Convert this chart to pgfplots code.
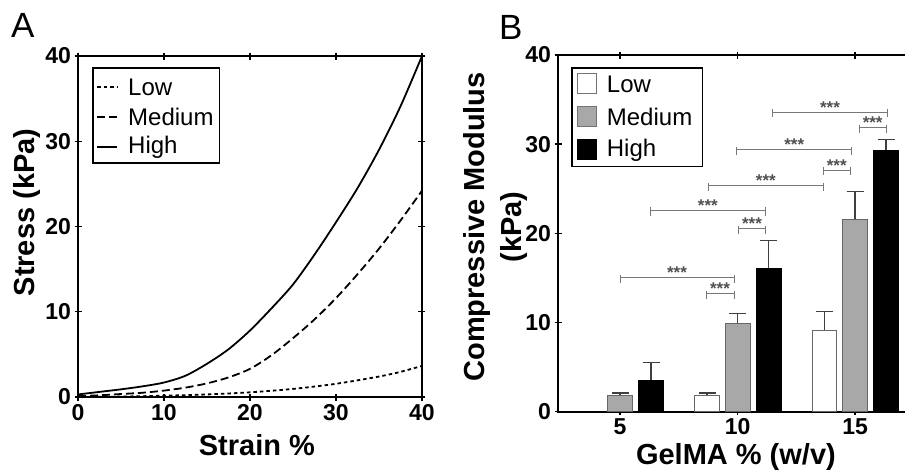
\documentclass[border=0pt]{standalone}
\usepackage{fontspec}
\setmainfont{Liberation Sans}
\usepackage{pgfplots}
\pgfplotsset{compat=1.18}
\definecolor{medgray}{RGB}{168,168,168}
\definecolor{brkgray}{RGB}{120,120,120}
\definecolor{stargray}{RGB}{80,80,80}

% significance bracket: from x1 to x2 at height y
\newcommand{\sig}[3]{%
  \draw[brkgray, line width=1pt] (axis cs:#1,#3+0.3) -- (axis cs:#1,#3-0.6);
  \draw[brkgray, line width=1pt] (axis cs:#2,#3+0.3) -- (axis cs:#2,#3-0.6);
  \draw[brkgray, line width=1pt] (axis cs:#1,#3) -- node[midway, anchor=base, yshift=-1pt, inner sep=0pt,
     text=stargray, font=\fontsize{17}{17}\selectfont\bfseries] {***} (axis cs:#2,#3);
}
\newcommand{\legfont}{\fontsize{24}{28}\selectfont}

\pgfplotsset{
  panel/.style={
    scale only axis,
    ymin=0, ymax=40, ytick={0,10,...,40},
    axis line style={line width=1.6pt},
    tick style={line width=1.4pt, black},
    major tick length=7pt,
    tick align=center,
    /pgf/number format/assume math mode=true,
    tick label style={font=\fontsize{23}{26}\selectfont\bfseries},
    label style={font=\fontsize{29}{34}\selectfont\bfseries},
  },
}

\begin{document}
\begin{tikzpicture}
\path[use as bounding box] (0pt,0pt) rectangle (905pt,472pt);

\node[anchor=north west, inner sep=0pt, font=\fontsize{35}{40}\selectfont] at (11pt,459pt) {A};
\node[anchor=north west, inner sep=0pt, font=\fontsize{35}{40}\selectfont] at (499pt,457pt) {B};

%% Panel A: stress-strain curves
\begin{axis}[
  panel,
  at={(78pt,75pt)}, anchor=south west,
  width=344pt, height=341pt,
  xmin=0, xmax=40, xtick={0,10,...,40},
  xlabel={Strain \%}, ylabel={Stress (kPa)},
  xlabel style={at={(axis description cs:0.52,-0.141)}, anchor=center},
  ylabel style={at={(axis description cs:-0.147,0.541)}, anchor=center},
]
%% Low
\addplot[black, line width=1.8pt, dash pattern=on 3.5pt off 3pt, smooth] coordinates {
  (0,0)(5,0.05)(10,0.15)(15,0.3)(20,0.55)(25,0.95)(30,1.55)(35,2.4)(37.5,2.95)(40,3.65)
};
%% Medium
\addplot[black, line width=1.8pt, dash pattern=on 8pt off 4pt, smooth] coordinates {
  (0,0.1)(2.5,0.2)(5,0.35)(7.5,0.5)(10,0.75)(12.5,1.1)(15,1.6)(17.5,2.3)(20,3.3)
  (22.5,4.9)(25,6.9)(27.5,9.1)(30,11.6)(32.5,14.4)(35,17.4)(37.5,20.7)(40,24.2)
};
%% High
\addplot[black, line width=1.8pt, smooth] coordinates {
  (0,0.3)(2.5,0.6)(5,0.9)(7.5,1.25)(10,1.7)(12.5,2.5)(15,3.9)(17.5,5.6)(20,7.8)
  (22.5,10.4)(25,13.2)(27.5,16.7)(30,20.5)(32.5,24.5)(35,29.0)(37.5,34.1)(40,40)
};
\end{axis}

%% legend of panel A
\draw[black, line width=1.6pt, fill=white] (92.7pt,403.7pt) rectangle (219.3pt,308.7pt);
\draw[black, line width=1.8pt, dash pattern=on 3.5pt off 3pt] (97pt,385pt) -- (117pt,385pt);
\draw[black, line width=1.8pt, dash pattern=on 8pt off 4pt] (97pt,355pt) -- (117pt,355pt);
\draw[black, line width=1.8pt] (97pt,325pt) -- (117pt,325pt);
\node[anchor=west, inner sep=0pt, font=\legfont] at (128pt,385pt) {Low};
\node[anchor=west, inner sep=0pt, font=\legfont] at (128pt,355pt) {Medium};
\node[anchor=west, inner sep=0pt, font=\legfont] at (128pt,325pt) {High};

%% Panel B: compressive modulus bars (bars placed at their own x: low -1.3, high +1.32)
\begin{axis}[
  panel,
  at={(558pt,60.3pt)}, anchor=south west,
  width=355.8pt, height=356.7pt,
  xmin=2.36, xmax=17.5, xtick={5,10,15},
  xlabel={GelMA \% (w/v)}, ylabel={Compressive Modulus\\(kPa)},
  xlabel style={at={(axis description cs:0.5,-0.128)}, anchor=center},
  ylabel style={at={(axis description cs:-0.175,0.518)}, anchor=center, align=center,
    font=\fontsize{29}{37}\selectfont\bfseries},
  error bars/y dir=plus, error bars/y explicit,
  error bars/error bar style={line width=1.2pt, black!75},
  error bars/error mark options={rotate=90, mark size=8.5pt, line width=1.2pt, black!75},
]
%% Low
\addplot[ybar, bar width=1.06, bar shift=0, fill=white, draw=black!60, line width=1pt]
  coordinates {(8.7,1.83) +- (0,0.27) (13.7,9.16) +- (0,2.04)};
%% Medium
\addplot[ybar, bar width=1.06, bar shift=0, fill=medgray, draw=black!60, line width=1pt]
  coordinates {(5,1.87) +- (0,0.23) (10,9.9) +- (0,1.1) (15,21.6) +- (0,3.1)};
%% High
\addplot[ybar, bar width=1.06, bar shift=0, fill=black, draw=black, line width=1pt]
  coordinates {(6.32,3.55) +- (0,1.95) (11.32,16.1) +- (0,3.1) (16.32,29.3) +- (0,1.2)};

\sig{5}{9.85}{15.07}
\sig{8.66}{9.85}{13.27}
\sig{10.05}{11.18}{20.56}
\sig{6.29}{11.18}{22.6}
\sig{8.76}{13.65}{25.4}
\sig{13.65}{14.79}{27.1}
\sig{9.97}{14.86}{29.4}
\sig{15.18}{16.32}{31.85}
\sig{11.48}{16.39}{33.6}
\end{axis}

%% legend of panel B
\draw[black, line width=1.6pt, fill=white] (571.7pt,403.7pt) rectangle (702.3pt,305.3pt);
\draw[fill=white, draw=black!55, line width=1pt] (577.7pt,378pt) rectangle (596pt,398pt);
\draw[fill=medgray, draw=black!55, line width=1pt] (577.7pt,345pt) rectangle (596pt,365pt);
\draw[fill=black, draw=black, line width=1pt] (577.7pt,312pt) rectangle (596pt,332pt);
\node[anchor=west, inner sep=0pt, font=\legfont] at (606.7pt,388pt) {Low};
\node[anchor=west, inner sep=0pt, font=\legfont] at (606.7pt,355pt) {Medium};
\node[anchor=west, inner sep=0pt, font=\legfont] at (606.7pt,322pt) {High};
\end{tikzpicture}
\end{document}
